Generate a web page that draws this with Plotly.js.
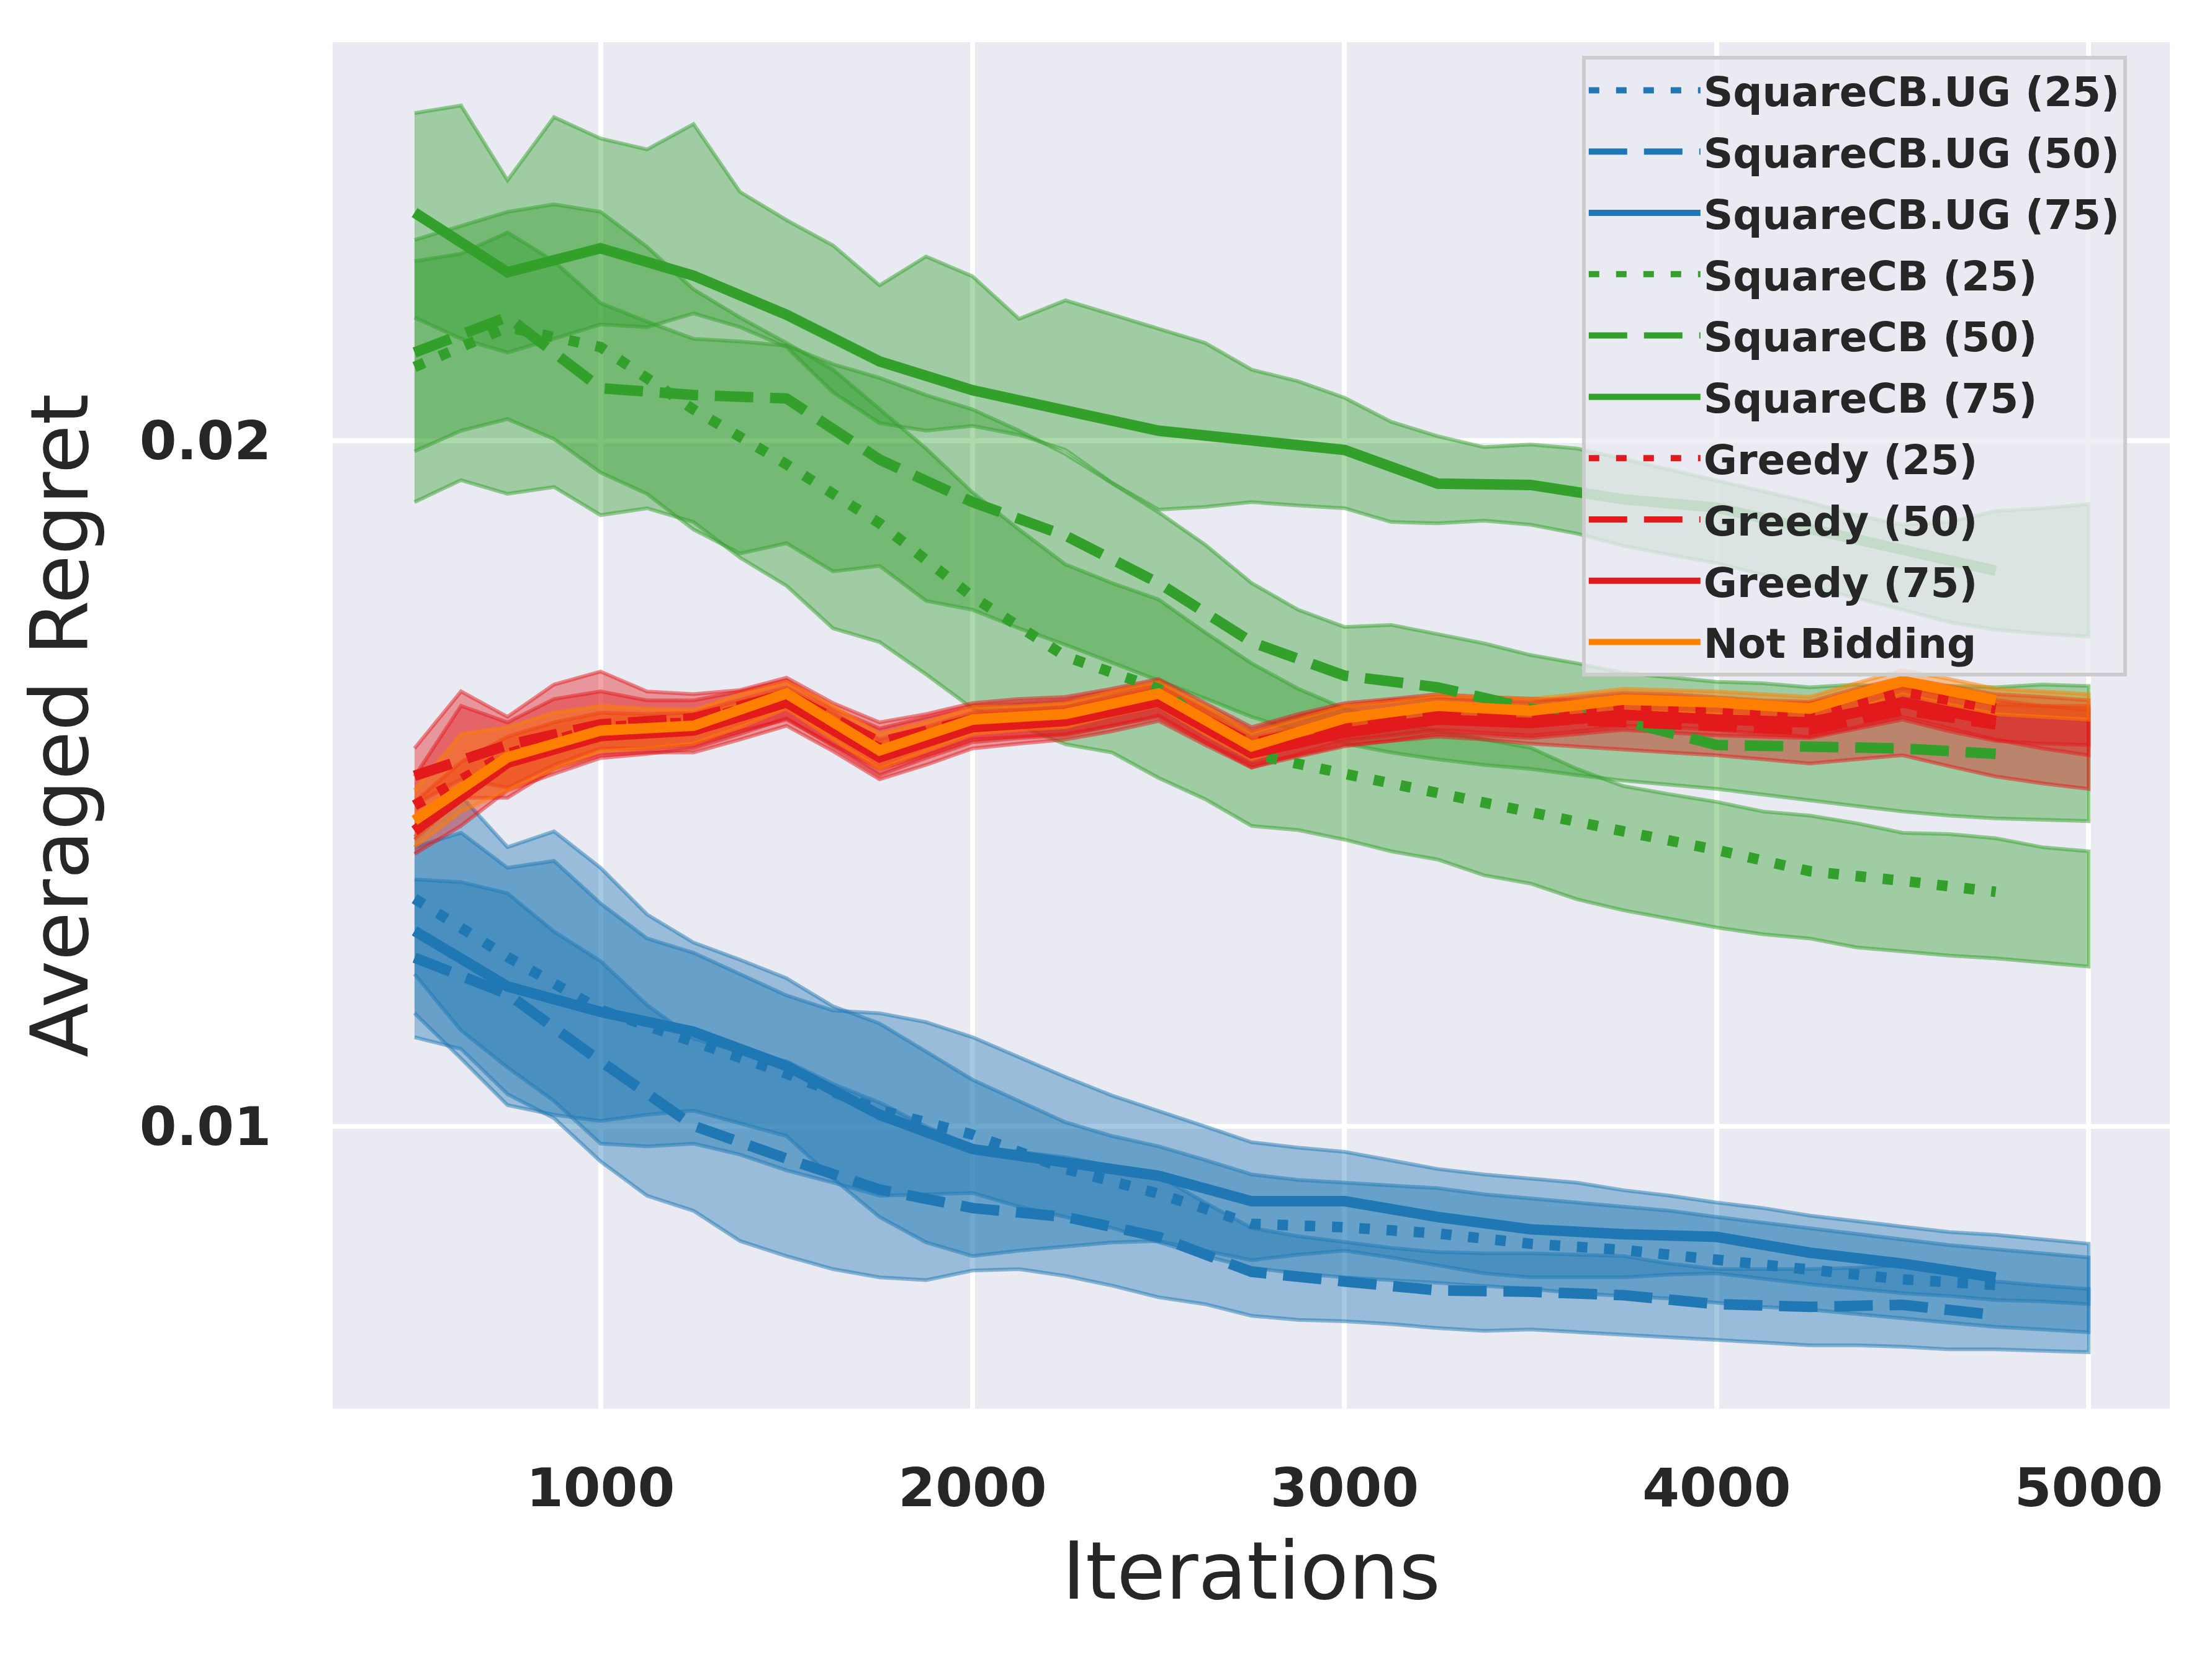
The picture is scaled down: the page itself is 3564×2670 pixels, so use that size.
<!DOCTYPE html>
<html>
<head>
<meta charset="utf-8">
<script src="https://cdn.plot.ly/plotly-3.0.1.min.js"></script>
<style>
html, body { margin: 0; padding: 0; background: #fff; }
#chart { width: 3564px; height: 2670px; }
</style>
</head>
<body>
<div id="chart"></div>
<script>
'use strict';

// iterations where the mean curves were recorded
var iters = [500, 750, 1000, 1250, 1500, 1750, 2000, 2250, 2500, 2750, 3000, 3250, 3500, 3750, 4000, 4250, 4500, 4750];
// iterations for the shaded spread
var bandIters = [500, 625, 750, 875, 1000, 1125, 1250, 1375, 1500, 1625, 1750, 1875, 2000, 2125, 2250, 2375, 2500, 2625, 2750,
	2875, 3000, 3125, 3250, 3375, 3500, 3625, 3750, 3875, 4000, 4125, 4250, 4375, 4500, 4625, 4750, 4875, 5000];

// mean averaged regret
var ugMean25 = [0.01332, 0.01247, 0.01170, 0.01122, 0.01077, 0.01024, 0.00988, 0.00938, 0.00902, 0.00858, 0.00853, 0.00844, 0.00829, 0.00820, 0.00806, 0.00790, 0.00777, 0.00769];
var ugMean50 = [0.01246, 0.01193, 0.01095, 0.01001, 0.00953, 0.00908, 0.00881, 0.00868, 0.00839, 0.00788, 0.00774, 0.00761, 0.00759, 0.00754, 0.00741, 0.00737, 0.00740, 0.00725];
var ugMean75 = [0.01285, 0.01204, 0.01167, 0.01138, 0.01088, 0.01017, 0.00967, 0.00949, 0.00928, 0.00891, 0.00891, 0.00868, 0.00850, 0.00843, 0.00839, 0.00816, 0.00800, 0.00780];
var scbMean25 = [0.02107, 0.02165, 0.02136, 0.02045, 0.01965, 0.01879, 0.01772, 0.01685, 0.01638, 0.01543, 0.01514, 0.01486, 0.01455, 0.01430, 0.01403, 0.01372, 0.01358, 0.01342];
var scbMean50 = [0.02128, 0.02180, 0.02076, 0.02066, 0.02061, 0.01972, 0.01910, 0.01861, 0.01792, 0.01706, 0.01657, 0.01640, 0.01609, 0.01591, 0.01556, 0.01553, 0.01551, 0.01543];
var scbMean75 = [0.02332, 0.02245, 0.02280, 0.02240, 0.02183, 0.02115, 0.02073, 0.02045, 0.02014, 0.02000, 0.01986, 0.01937, 0.01935, 0.01914, 0.01902, 0.01871, 0.01839, 0.01810];
var greedyMean25 = [0.01468, 0.01543, 0.01582, 0.01589, 0.01626, 0.01551, 0.01589, 0.01597, 0.01626, 0.01551, 0.01586, 0.01603, 0.01597, 0.01609, 0.01607, 0.01601, 0.01634, 0.01609];
var greedyMean50 = [0.01511, 0.01556, 0.01586, 0.01595, 0.01630, 0.01560, 0.01593, 0.01599, 0.01628, 0.01558, 0.01589, 0.01601, 0.01595, 0.01589, 0.01586, 0.01578, 0.01607, 0.01586];
var greedyMean75 = [0.01431, 0.01530, 0.01569, 0.01577, 0.01618, 0.01538, 0.01582, 0.01591, 0.01619, 0.01544, 0.01574, 0.01593, 0.01588, 0.01600, 0.01593, 0.01589, 0.01618, 0.01591];
var notBidMean = [0.01446, 0.01538, 0.01577, 0.01584, 0.01631, 0.01548, 0.01593, 0.01601, 0.01631, 0.01554, 0.01595, 0.01613, 0.01606, 0.01622, 0.01618, 0.01609, 0.01649, 0.01621];

// upper / lower edges of the spread
var ug25Hi = [0.01422, 0.01482, 0.01407, 0.01430, 0.01377, 0.01309, 0.01268, 0.01243, 0.01216, 0.01175, 0.01150, 0.01109, 0.01068, 0.01037, 0.01006, 0.00986, 0.00971, 0.00951, 0.00930,
	0.00922, 0.00918, 0.00914, 0.00910, 0.00901, 0.00895, 0.00889, 0.00883, 0.00877, 0.00868, 0.00860, 0.00852, 0.00844, 0.00835, 0.00827, 0.00821, 0.00815, 0.00809];
var ug25Lo = [0.01222, 0.01140, 0.01086, 0.01037, 0.00975, 0.00971, 0.00975, 0.00959, 0.00936, 0.00918, 0.00899, 0.00901, 0.00903, 0.00883, 0.00868, 0.00852, 0.00831, 0.00811, 0.00794,
	0.00786, 0.00780, 0.00776, 0.00772, 0.00768, 0.00763, 0.00757, 0.00753, 0.00749, 0.00743, 0.00737, 0.00733, 0.00726, 0.00720, 0.00714, 0.00708, 0.00704, 0.00700];
var ug50Hi = [0.01360, 0.01356, 0.01340, 0.01284, 0.01241, 0.01177, 0.01128, 0.01109, 0.01095, 0.01062, 0.01035, 0.01000, 0.00971, 0.00963, 0.00955, 0.00942, 0.00928, 0.00889, 0.00852,
	0.00840, 0.00831, 0.00823, 0.00817, 0.00815, 0.00815, 0.00813, 0.00811, 0.00800, 0.00792, 0.00792, 0.00792, 0.00794, 0.00798, 0.00786, 0.00774, 0.00768, 0.00763];
var ug50Lo = [0.01130, 0.01113, 0.01047, 0.01012, 0.00949, 0.00899, 0.00877, 0.00833, 0.00811, 0.00792, 0.00780, 0.00776, 0.00790, 0.00792, 0.00782, 0.00768, 0.00751, 0.00741, 0.00724,
	0.00718, 0.00716, 0.00712, 0.00706, 0.00702, 0.00704, 0.00700, 0.00696, 0.00693, 0.00689, 0.00685, 0.00681, 0.00681, 0.00679, 0.00675, 0.00675, 0.00673, 0.00671];
var ug75Hi = [0.01407, 0.01428, 0.01377, 0.01387, 0.01325, 0.01274, 0.01253, 0.01222, 0.01191, 0.01169, 0.01165, 0.01152, 0.01130, 0.01101, 0.01072, 0.01045, 0.01023, 0.01000, 0.00977,
	0.00969, 0.00963, 0.00951, 0.00938, 0.00930, 0.00924, 0.00918, 0.00907, 0.00899, 0.00889, 0.00881, 0.00870, 0.00862, 0.00854, 0.00846, 0.00842, 0.00835, 0.00829];
var ug75Lo = [0.01165, 0.01099, 0.01031, 0.01017, 0.01008, 0.01017, 0.01023, 0.01004, 0.00986, 0.00924, 0.00868, 0.00831, 0.00811, 0.00819, 0.00825, 0.00831, 0.00833, 0.00819, 0.00805,
	0.00813, 0.00819, 0.00809, 0.00798, 0.00786, 0.00780, 0.00780, 0.00780, 0.00784, 0.00786, 0.00778, 0.00770, 0.00763, 0.00757, 0.00753, 0.00747, 0.00745, 0.00741];

var scb25Hi = [0.02292, 0.02313, 0.02333, 0.02344, 0.02333, 0.02282, 0.02220, 0.02179, 0.02142, 0.02103, 0.02045, 0.01988, 0.01924, 0.01870, 0.01819, 0.01792, 0.01768, 0.01720, 0.01675,
	0.01638, 0.01609, 0.01593, 0.01576, 0.01564, 0.01552, 0.01521, 0.01496, 0.01484, 0.01473, 0.01459, 0.01453, 0.01442, 0.01428, 0.01426, 0.01420, 0.01407, 0.01401];
var scb25Lo = [0.01910, 0.01942, 0.01922, 0.01932, 0.01891, 0.01901, 0.01881, 0.01829, 0.01788, 0.01726, 0.01706, 0.01659, 0.01609, 0.01584, 0.01557, 0.01545, 0.01508, 0.01477, 0.01438,
	0.01432, 0.01418, 0.01401, 0.01389, 0.01366, 0.01354, 0.01331, 0.01315, 0.01303, 0.01290, 0.01280, 0.01274, 0.01261, 0.01255, 0.01249, 0.01245, 0.01239, 0.01233];
var scb50Hi = [0.02261, 0.02272, 0.02303, 0.02261, 0.02200, 0.02173, 0.02148, 0.02144, 0.02138, 0.02111, 0.02091, 0.02066, 0.02045, 0.02014, 0.01980, 0.01938, 0.01895, 0.01848, 0.01792,
	0.01753, 0.01728, 0.01731, 0.01718, 0.01704, 0.01687, 0.01675, 0.01661, 0.01654, 0.01648, 0.01646, 0.01640, 0.01644, 0.01638, 0.01642, 0.01640, 0.01644, 0.01642];
var scb50Lo = [0.01984, 0.02014, 0.02031, 0.02002, 0.01953, 0.01922, 0.01870, 0.01835, 0.01850, 0.01809, 0.01817, 0.01766, 0.01753, 0.01726, 0.01702, 0.01675, 0.01650, 0.01624, 0.01597,
	0.01576, 0.01558, 0.01545, 0.01535, 0.01527, 0.01521, 0.01512, 0.01504, 0.01498, 0.01492, 0.01484, 0.01475, 0.01467, 0.01459, 0.01453, 0.01449, 0.01447, 0.01445];
var scb75Hi = [0.02477, 0.02488, 0.02379, 0.02471, 0.02440, 0.02424, 0.02461, 0.02362, 0.02321, 0.02284, 0.02226, 0.02268, 0.02239, 0.02177, 0.02204, 0.02183, 0.02163, 0.02142, 0.02103,
	0.02086, 0.02062, 0.02027, 0.02006, 0.01990, 0.01994, 0.01988, 0.01973, 0.01957, 0.01942, 0.01926, 0.01910, 0.01891, 0.01877, 0.01881, 0.01897, 0.01901, 0.01907];
var scb75Lo = [0.02179, 0.02148, 0.02128, 0.02148, 0.02169, 0.02165, 0.02185, 0.02165, 0.02136, 0.02070, 0.02025, 0.02014, 0.02021, 0.02008, 0.01986, 0.01938, 0.01899, 0.01903, 0.01910,
	0.01905, 0.01901, 0.01881, 0.01879, 0.01883, 0.01877, 0.01864, 0.01846, 0.01833, 0.01821, 0.01805, 0.01788, 0.01770, 0.01753, 0.01735, 0.01724, 0.01718, 0.01714];

var g25Hi = [0.01510, 0.01613, 0.01589, 0.01623, 0.01634, 0.01621, 0.01621, 0.01634, 0.01650, 0.01609, 0.01580, 0.01597, 0.01613, 0.01617, 0.01621, 0.01634, 0.01646, 0.01609, 0.01576,
	0.01597, 0.01613, 0.01621, 0.01626, 0.01621, 0.01619, 0.01626, 0.01632, 0.01630, 0.01626, 0.01621, 0.01619, 0.01638, 0.01654, 0.01642, 0.01630, 0.01626, 0.01621];
var g25Lo = [0.01418, 0.01479, 0.01479, 0.01521, 0.01541, 0.01545, 0.01545, 0.01564, 0.01584, 0.01547, 0.01506, 0.01527, 0.01551, 0.01558, 0.01564, 0.01576, 0.01591, 0.01556, 0.01523,
	0.01543, 0.01562, 0.01570, 0.01578, 0.01574, 0.01570, 0.01576, 0.01584, 0.01582, 0.01578, 0.01572, 0.01568, 0.01582, 0.01597, 0.01580, 0.01564, 0.01551, 0.01541];
var g50Hi = [0.01551, 0.01634, 0.01597, 0.01644, 0.01663, 0.01634, 0.01630, 0.01636, 0.01654, 0.01617, 0.01589, 0.01601, 0.01617, 0.01623, 0.01626, 0.01638, 0.01652, 0.01617, 0.01582,
	0.01601, 0.01617, 0.01623, 0.01630, 0.01626, 0.01623, 0.01621, 0.01619, 0.01619, 0.01619, 0.01617, 0.01617, 0.01630, 0.01644, 0.01630, 0.01621, 0.01613, 0.01607];
var g50Lo = [0.01469, 0.01506, 0.01494, 0.01527, 0.01551, 0.01551, 0.01556, 0.01576, 0.01593, 0.01556, 0.01521, 0.01541, 0.01564, 0.01568, 0.01572, 0.01584, 0.01597, 0.01560, 0.01527,
	0.01541, 0.01556, 0.01562, 0.01568, 0.01564, 0.01558, 0.01554, 0.01549, 0.01545, 0.01541, 0.01535, 0.01529, 0.01535, 0.01541, 0.01525, 0.01510, 0.01500, 0.01492];
var g75Hi = [0.01473, 0.01531, 0.01568, 0.01589, 0.01603, 0.01601, 0.01603, 0.01621, 0.01640, 0.01603, 0.01564, 0.01582, 0.01603, 0.01607, 0.01611, 0.01626, 0.01640, 0.01603, 0.01566,
	0.01580, 0.01595, 0.01605, 0.01613, 0.01611, 0.01609, 0.01615, 0.01621, 0.01619, 0.01615, 0.01613, 0.01611, 0.01626, 0.01640, 0.01628, 0.01615, 0.01613, 0.01613];
var g75Lo = [0.01397, 0.01438, 0.01490, 0.01514, 0.01537, 0.01543, 0.01551, 0.01572, 0.01595, 0.01554, 0.01512, 0.01537, 0.01560, 0.01566, 0.01570, 0.01584, 0.01599, 0.01560, 0.01523,
	0.01539, 0.01554, 0.01562, 0.01572, 0.01570, 0.01566, 0.01572, 0.01578, 0.01574, 0.01570, 0.01568, 0.01566, 0.01580, 0.01593, 0.01576, 0.01562, 0.01558, 0.01556];
var nbHi = [0.01490, 0.01572, 0.01582, 0.01603, 0.01613, 0.01609, 0.01607, 0.01630, 0.01648, 0.01613, 0.01572, 0.01589, 0.01611, 0.01613, 0.01617, 0.01634, 0.01648, 0.01613, 0.01574,
	0.01593, 0.01613, 0.01619, 0.01628, 0.01626, 0.01623, 0.01630, 0.01638, 0.01636, 0.01634, 0.01630, 0.01626, 0.01646, 0.01665, 0.01652, 0.01638, 0.01634, 0.01630];
var nbLo = [0.01407, 0.01459, 0.01490, 0.01521, 0.01547, 0.01551, 0.01558, 0.01582, 0.01609, 0.01564, 0.01521, 0.01547, 0.01572, 0.01578, 0.01582, 0.01599, 0.01613, 0.01572, 0.01535,
	0.01556, 0.01576, 0.01586, 0.01597, 0.01593, 0.01589, 0.01597, 0.01605, 0.01603, 0.01601, 0.01595, 0.01591, 0.01609, 0.01630, 0.01615, 0.01601, 0.01597, 0.01593];

var yTicks = [0.01, 0.02];
var yTickText = ['0.01', '0.02'];
var xTicks = [1000, 2000, 3000, 4000, 5000];

var BLUE = '31,120,180', GREEN = '51,160,44', RED = '227,26,28', ORANGE = '255,127,0';
var DOT = '17px,27px', DASH = '62px,27px';

var series = [
	{name: 'SquareCB.UG (25)', mean: ugMean25, hi: ug25Hi, lo: ug25Lo, rgb: BLUE, dash: DOT},
	{name: 'SquareCB.UG (50)', mean: ugMean50, hi: ug50Hi, lo: ug50Lo, rgb: BLUE, dash: DASH},
	{name: 'SquareCB.UG (75)', mean: ugMean75, hi: ug75Hi, lo: ug75Lo, rgb: BLUE, dash: 'solid'},
	{name: 'SquareCB (25)', mean: scbMean25, hi: scb25Hi, lo: scb25Lo, rgb: GREEN, dash: DOT},
	{name: 'SquareCB (50)', mean: scbMean50, hi: scb50Hi, lo: scb50Lo, rgb: GREEN, dash: DASH},
	{name: 'SquareCB (75)', mean: scbMean75, hi: scb75Hi, lo: scb75Lo, rgb: GREEN, dash: 'solid'},
	{name: 'Greedy (25)', mean: greedyMean25, hi: g25Hi, lo: g25Lo, rgb: RED, dash: DOT},
	{name: 'Greedy (50)', mean: greedyMean50, hi: g50Hi, lo: g50Lo, rgb: RED, dash: DASH},
	{name: 'Greedy (75)', mean: greedyMean75, hi: g75Hi, lo: g75Lo, rgb: RED, dash: 'solid'},
	{name: 'Not Bidding', mean: notBidMean, hi: nbHi, lo: nbLo, rgb: ORANGE, dash: 'solid'}
];

var backX = bandIters.slice().reverse();
var data = [];
// shaded spreads first so every mean line sits on top
series.forEach(function(s) {
	data.push({
		x: bandIters.concat(backX),
		y: s.hi.concat(s.lo.slice().reverse()),
		type: 'scatter', mode: 'lines',
		fill: 'toself',
		fillcolor: 'rgba(' + s.rgb + ',0.4)',
		line: {color: 'rgba(' + s.rgb + ',0.5)', width: 6},
		legendgroup: s.name, showlegend: false, hoverinfo: 'skip'
	});
});
series.forEach(function(s) {
	data.push({
		x: iters, y: s.mean, name: s.name,
		type: 'scatter', mode: 'lines',
		line: {color: 'rgb(' + s.rgb + ')', width: 17, dash: s.dash},
		legendgroup: s.name
	});
});

var tickFont = {family: 'DejaVu Sans', size: 86, color: '#262626', weight: 'bold'};
var titleFont = {family: 'DejaVu Sans', size: 128, color: '#262626'};

var layout = {
	width: 3564, height: 2670,
	margin: {l: 536, r: 68, t: 68, b: 400},
	paper_bgcolor: '#ffffff',
	plot_bgcolor: '#eaeaf2',
	showlegend: true,
	xaxis: {
		range: [280, 5218],
		tickvals: xTicks,
		tickfont: tickFont,
		ticks: '', ticklabelstandoff: 70,
		showgrid: true, gridcolor: '#ffffff', gridwidth: 8,
		zeroline: false, showline: false,
		title: {text: 'Iterations', font: titleFont, standoff: 40}
	},
	yaxis: {
		range: [0.005885, 0.025803],
		tickvals: yTicks, ticktext: yTickText,
		tickfont: tickFont,
		ticks: '', ticklabelstandoff: 98,
		showgrid: true, gridcolor: '#ffffff', gridwidth: 8,
		zeroline: false, showline: false,
		title: {text: 'Averaged Regret', font: titleFont, standoff: 40}
	},
	legend: {
		x: 0.68, y: 0.99, xanchor: 'left', yanchor: 'top',
		bgcolor: 'rgba(234,234,242,0.8)',
		bordercolor: '#cccccc', borderwidth: 6,
		font: {family: 'DejaVu Sans', size: 66, color: '#262626', weight: 'bold'},
		itemwidth: 180,
		tracegroupgap: 10,
		traceorder: 'grouped'
	}
};

Plotly.newPlot('chart', data, layout, {staticPlot: true});
</script>
</body>
</html>
